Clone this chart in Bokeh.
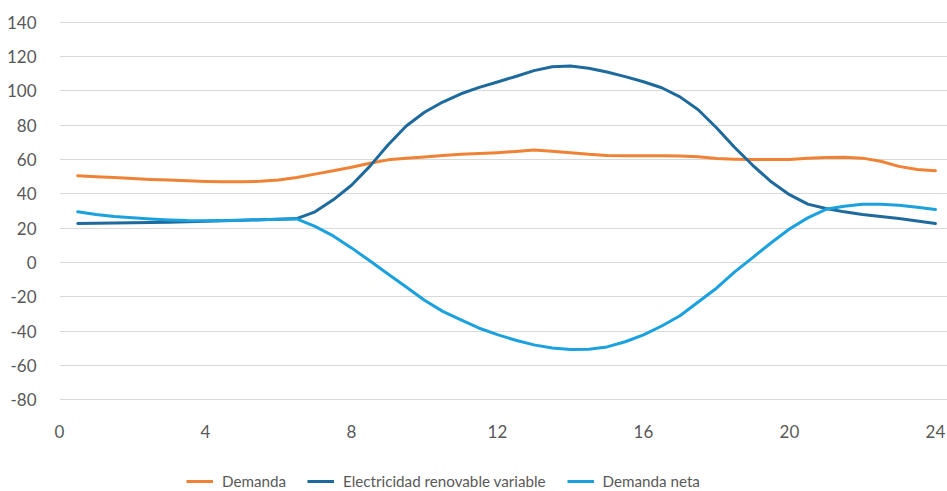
from bokeh.plotting import figure
from bokeh.models import Range1d, FixedTicker, Legend, LegendItem
from bokeh.layouts import column
from bokeh.embed import file_html
from bokeh.resources import INLINE

hours = [0.5, 1.0, 1.5, 2.0, 2.5, 3.0, 3.5, 4.0, 4.5, 5.0, 5.5, 6.0,
         6.5, 7.0, 7.5, 8.0, 8.5, 9.0, 9.5, 10.0, 10.5, 11.0, 11.5, 12.0,
         12.5, 13.0, 13.5, 14.0, 14.5, 15.0, 15.5, 16.0, 16.5, 17.0, 17.5, 18.0,
         18.5, 19.0, 19.5, 20.0, 20.5, 21.0, 21.5, 22.0, 22.5, 23.0, 23.5, 24.0]

demanda = [50.5, 50.0, 49.5, 49.0, 48.4, 48.0, 47.6, 47.2, 47.0, 47.0, 47.3, 48.0,
           49.5, 51.5, 53.5, 55.5, 57.8, 59.8, 60.8, 61.5, 62.3, 63.0, 63.5, 64.0,
           64.7, 65.5, 64.8, 64.0, 63.0, 62.3, 62.2, 62.2, 62.2, 62.0, 61.6, 60.6,
           60.2, 60.0, 60.0, 60.0, 60.8, 61.2, 61.3, 60.8, 59.0, 56.0, 54.2, 53.5]

renovable = [22.7, 22.8, 23.0, 23.1, 23.3, 23.5, 23.8, 24.0, 24.3, 24.6, 24.9, 25.2,
             25.6, 29.5, 36.5, 45.0, 56.0, 68.5, 79.5, 87.5, 93.5, 98.3, 102.0, 105.2,
             108.4, 111.8, 114.0, 114.5, 113.2, 111.0, 108.3, 105.3, 101.8, 96.5, 89.0, 78.5,
             67.0, 56.5, 47.0, 39.5, 34.0, 31.5, 29.5, 28.0, 26.8, 25.6, 24.2, 22.7]

neta = [29.5, 28.0, 26.8, 26.0, 25.3, 24.8, 24.4, 24.3, 24.4, 24.6, 24.9, 25.2,
        25.4, 21.0, 15.5, 8.5, 1.0, -6.7, -14.3, -22.0, -28.5, -33.5, -38.3, -42.0,
        -45.3, -48.0, -49.8, -50.7, -50.5, -49.2, -46.2, -42.2, -37.0, -31.0, -23.0, -15.0,
        -5.5, 3.0, 11.5, 19.5, 26.0, 31.0, 32.8, 34.0, 34.0, 33.3, 32.2, 30.9]

x_ticks = [0, 4, 8, 12, 16, 20, 24]
y_ticks = [-80, -60, -40, -20, 0, 20, 40, 60, 80, 100, 120, 140]

labels = ["Demanda", "Electricidad renovable variable", "Demanda neta"]
colors = ["#F08236", "#1F6A9D", "#1BA1DD"]

FONT = "Lato"
TXT = "#595959"

p = figure(width=947, height=465, output_backend="svg", toolbar_location=None,
           x_range=Range1d(0, 24.33), y_range=Range1d(-81, 141),
           min_border_left=59, min_border_right=0, min_border_top=20,
           min_border_bottom=64)
p.outline_line_color = None
p.background_fill_color = "white"
p.border_fill_color = "white"

p.xgrid.visible = False
p.ygrid.ticker = FixedTicker(ticks=y_ticks)
p.ygrid.grid_line_color = "#D9D9D9"
p.ygrid.grid_line_width = 1

for ax in (p.xaxis[0], p.yaxis[0]):
    ax.axis_line_color = None
    ax.major_tick_line_color = None
    ax.minor_tick_line_color = None
    ax.major_label_text_font = FONT
    ax.major_label_text_color = TXT
    ax.major_label_text_font_size = "17px"

p.xaxis[0].ticker = FixedTicker(ticks=x_ticks)
p.xaxis[0].major_label_standoff = 17
p.yaxis[0].ticker = FixedTicker(ticks=y_ticks)
p.yaxis[0].major_label_standoff = 17
p.yaxis[0].major_label_overrides = {t: str(t) for t in y_ticks}

series = [demanda, renovable, neta]
for col, ys in zip(colors, series):
    p.line(hours, ys, line_color=col, line_width=3, line_cap="round", line_join="round")

# legend strip below the chart (its own ranges keep the lines out of view)
p2 = figure(width=947, height=26, output_backend="svg", toolbar_location=None,
            x_range=Range1d(1000, 1001), y_range=Range1d(1000, 1001),
            min_border_left=0, min_border_right=0, min_border_top=0,
            min_border_bottom=0)
p2.axis.visible = False
p2.grid.visible = False
p2.outline_line_color = None
items = []
for lab, col, ys in zip(labels, colors, series):
    r = p2.line(hours, ys, line_color=col, line_width=3)
    items.append(LegendItem(label=lab, renderers=[r]))

legend = Legend(items=items, orientation="horizontal", location=(127, 1))
legend.label_text_font = FONT
legend.label_text_font_size = "15.2px"
legend.label_text_color = TXT
legend.label_height = 16
legend.glyph_height = 16
legend.glyph_width = 27
legend.label_standoff = 9
legend.spacing = 21
legend.padding = 0
legend.margin = 0
legend.border_line_color = None
legend.background_fill_alpha = 0
p2.add_layout(legend, "center")

open("out.html", "w").write(file_html(column(p, p2), INLINE))
